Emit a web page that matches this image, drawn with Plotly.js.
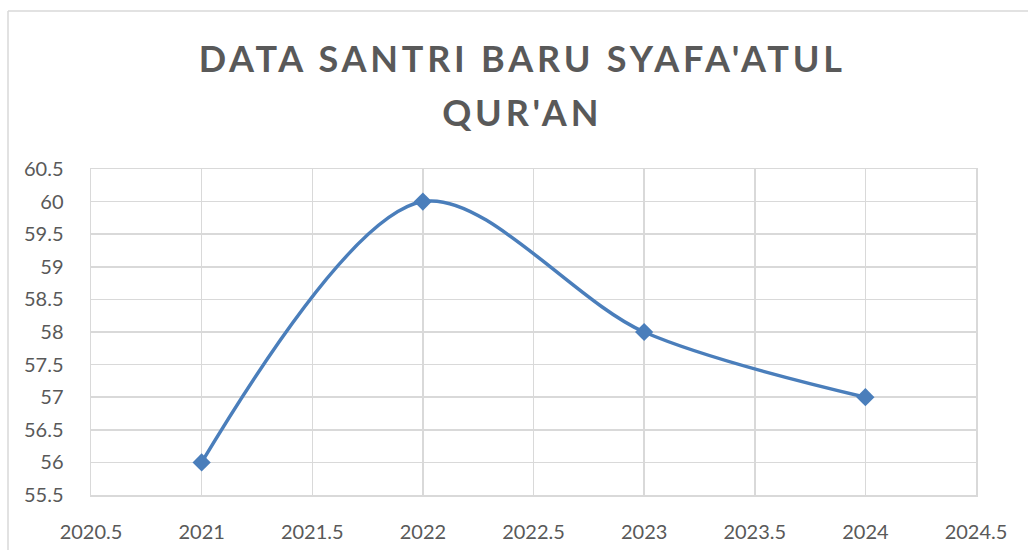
<!DOCTYPE html>
<html>
<head>
<meta charset="utf-8">
<script src="https://cdn.plot.ly/plotly-3.0.1.min.js"></script>
<style>
html,body{margin:0;padding:0;background:#fff;}
#chart{width:1028px;height:550px;}
.gtitle{letter-spacing:3.8px;}
</style>
</head>
<body>
<div id="chart"></div>
<script>
const years = [2021, 2022, 2023, 2024];
const santri = [56, 60, 58, 57];
const xTicks = [2020.5, 2021, 2021.5, 2022, 2022.5, 2023, 2023.5, 2024, 2024.5];
const yTicks = [55.5, 56, 56.5, 57, 57.5, 58, 58.5, 59, 59.5, 60, 60.5];
const chartTitle = "DATA SANTRI BARU SYAFA'ATUL<br>QUR'AN";

const L = 91, R = 52, T = 169, B = 55;
const W = 1028 - L - R, H = 550 - T - B;
const px = x => (x - L) / W;
const py = y => (550 - B - y) / H;

const trace = {
  x: years, y: santri, type: 'scatter', mode: 'lines+markers',
  line: {color: '#4a7ebb', width: 3.5, shape: 'spline', smoothing: 0.9},
  marker: {symbol: 'diamond', size: 14, color: '#4a7ebb'},
  hoverinfo: 'x+y'
};

const axisCommon = {
  showgrid: true, gridcolor: '#d9d9d9', gridwidth: 1.5,
  showline: true, linecolor: '#d9d9d9', linewidth: 1.5, mirror: true,
  zeroline: false, ticks: 'outside', tickcolor: 'rgba(0,0,0,0)',
  tickfont: {family: 'Lato, "Open Sans", sans-serif', size: 20, color: '#595959'}
};

const layout = {
  width: 1028, height: 550,
  margin: {l: L, r: R, t: T, b: B},
  paper_bgcolor: '#fff', plot_bgcolor: '#fff',
  showlegend: false,
  title: {
    text: chartTitle,
    font: {family: 'Lato, "Open Sans", sans-serif', size: 36, color: '#595959', weight: 'bold'},
    x: 0.508, xref: 'container', xanchor: 'center',
    y: 0.87, yref: 'container', yanchor: 'top'
  },
  xaxis: Object.assign({}, axisCommon, {
    range: [2020.5, 2024.5], tickmode: 'array', tickvals: xTicks,
    ticktext: xTicks.map(String), ticklen: 18
  }),
  yaxis: Object.assign({}, axisCommon, {
    range: [55.5, 60.5], tickmode: 'array', tickvals: yTicks,
    ticktext: yTicks.map(String), ticklen: 22
  }),
  shapes: [
    {type: 'line', xref: 'paper', yref: 'paper', x0: px(8), x1: px(8), y0: py(11), y1: py(560), line: {color: '#d9d9d9', width: 1.5}},
    {type: 'line', xref: 'paper', yref: 'paper', x0: px(8), x1: px(1040), y0: py(11), y1: py(11), line: {color: '#d9d9d9', width: 1.5}}
  ]
};

Plotly.newPlot('chart', [trace], layout, {displayModeBar: false, staticPlot: true}).then(function(gd){
  const lines = gd.querySelectorAll('.gtitle tspan.line');
  for (let i = 1; i < lines.length; i++) lines[i].setAttribute('dy', '1.5em');
});
</script>
</body>
</html>
